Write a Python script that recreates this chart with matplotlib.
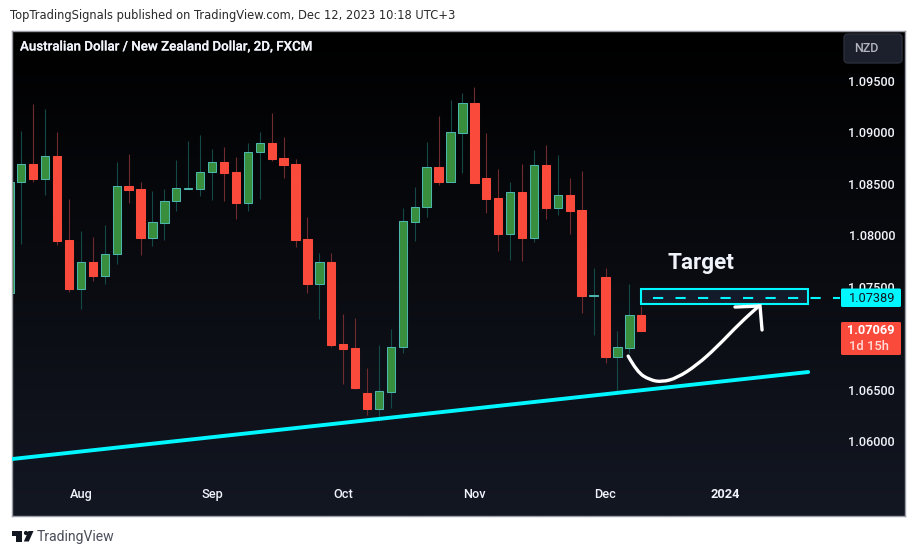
import numpy as np
import matplotlib
matplotlib.use("Agg")
import matplotlib.pyplot as plt
import matplotlib.patheffects as pe
from matplotlib.colors import LinearSegmentedColormap
from matplotlib.patches import Rectangle, FancyBboxPatch, Polygon, Circle, PathPatch
from matplotlib.path import Path

# Candles (first one is clipped by the left edge of the chart)
opens = [1.07434, 1.08512, 1.08686, 1.08547, 1.08764, 1.07948, 1.07479, 1.07735, 1.07605, 1.07813,
         1.08473, 1.08444, 1.07974, 1.08119, 1.08327, 1.08450, 1.08450, 1.08609, 1.08706, 1.08609,
         1.08314, 1.08803, 1.08890, 1.08745, 1.08686, 1.07958, 1.07527, 1.07735, 1.06939, 1.06900,
         1.06463, 1.06314, 1.06479, 1.06910, 1.08129, 1.08269, 1.08657, 1.08517, 1.08993, 1.09279,
         1.08550, 1.08356, 1.08013, 1.08415, 1.07974, 1.08677, 1.08265, 1.08385, 1.08240, 1.07411,
         1.07589, 1.06818, 1.06906, 1.07220]
highs = [1.08515, 1.09010, 1.09272, 1.09223, 1.09000, 1.08347, 1.08036, 1.07978, 1.08097, 1.08706,
         1.08786, 1.08515, 1.08427, 1.08447, 1.08728, 1.08913, 1.08971, 1.08832, 1.08854, 1.08754,
         1.08890, 1.09000, 1.09184, 1.08951, 1.08738, 1.08175, 1.07825, 1.07825, 1.07233, 1.07194,
         1.06709, 1.06929, 1.07084, 1.08259, 1.08463, 1.08903, 1.09155, 1.09311, 1.09379, 1.09437,
         1.08990, 1.08641, 1.08515, 1.08689, 1.08825, 1.08874, 1.08777, 1.08553, 1.08621, 1.07680,
         1.07680, 1.07068, 1.07524, 1.07311]
lows = [1.07434, 1.07915, 1.08517, 1.08388, 1.07906, 1.07449, 1.07284, 1.07556, 1.07527, 1.07721,
        1.08311, 1.07809, 1.07896, 1.07954, 1.08236, 1.08450, 1.08382, 1.08340, 1.08333, 1.08158,
        1.08236, 1.08352, 1.08721, 1.08556, 1.07886, 1.07440, 1.07187, 1.06915, 1.06556, 1.06508,
        1.06255, 1.06191, 1.06323, 1.06857, 1.07945, 1.08178, 1.08488, 1.08517, 1.08605, 1.08508,
        1.08214, 1.07845, 1.07760, 1.07750, 1.07935, 1.08158, 1.08197, 1.08013, 1.07246, 1.07032,
        1.06760, 1.06488, 1.06857, 1.07069]
closes = [1.08515, 1.08686, 1.08547, 1.08764, 1.07945, 1.07479, 1.07735, 1.07605, 1.07813, 1.08473,
          1.08440, 1.07974, 1.08123, 1.08327, 1.08453, 1.08456, 1.08609, 1.08706, 1.08605, 1.08314,
          1.08803, 1.08890, 1.08741, 1.08683, 1.07954, 1.07527, 1.07735, 1.06935, 1.06896, 1.06517,
          1.06314, 1.06482, 1.06910, 1.08133, 1.08269, 1.08657, 1.08517, 1.08997, 1.09279, 1.08508,
          1.08352, 1.08013, 1.08415, 1.07974, 1.08677, 1.08265, 1.08385, 1.08236, 1.07411, 1.07420,
          1.06818, 1.06910, 1.07220, 1.07069]
bar_index = list(range(-1, 53))

month_pos = [5, 16, 27, 38, 49, 59]
month_labels = ["Aug", "Sep", "Oct", "Nov", "Dec", "2024"]
price_ticks = [1.06, 1.065, 1.075, 1.08, 1.085, 1.09, 1.095]

# Drawings on the chart (bar index / price)
trend_x = [-0.78, 66.0]
trend_y = [1.05825, 1.0667]
target_x = [51.97, 66.0]
target_y = [1.0733, 1.07476]
target_price = 1.07389
last_price = 1.07069
dash_x = [52.98, 68.66]
curve_x = [50.9, 51.64, 52.73, 53.74, 55.0, 56.67, 58.35, 60.28, 61.87]
curve_y = [1.06825, 1.0667, 1.06592, 1.06573, 1.06612, 1.06738, 1.06913, 1.07146, 1.07311]
head_x = [59.86, 61.96, 62.13]
head_y = [1.07301, 1.07311, 1.07078]

GREEN, GREEN_EDGE, GREEN_WICK = "#388e3c", "#4db6ac", "#134a47"
RED, RED_WICK = "#f94a3c", "#6f2b2d"
CYAN = "#00f7ff"
FONT = "Roboto"
THICK = [pe.withStroke(linewidth=0.12, foreground="#f0f3fa")]

W, H = 917, 556
fig = plt.figure(figsize=(W / 100, H / 100), dpi=100, facecolor="white")
ax = fig.add_axes([12 / W, 1 - 516 / H, 893 / W, 485 / H])
xlim = (-0.78, 74.12)
ylim = (1.05272, 1.09981)

cmap = LinearSegmentedColormap.from_list("bg", ["#000000", "#131722"])
ax.imshow(np.linspace(0, 1, 256).reshape(-1, 1), cmap=cmap, aspect="auto",
          extent=(*xlim, *ylim), origin="upper", zorder=0)

for i, o, h, l, c in zip(bar_index, opens, highs, lows, closes):
    up = c >= o
    ax.vlines(i, l, h, color=GREEN_WICK if up else RED_WICK, lw=0.8, zorder=1)
    ax.add_patch(Rectangle((i - 0.35, min(o, c)), 0.7, abs(c - o),
                           facecolor=GREEN if up else RED,
                           edgecolor=GREEN_EDGE if up else RED, lw=0.75, zorder=2))

ax.add_patch(Rectangle((target_x[0], target_y[0]), target_x[1] - target_x[0], target_y[1] - target_y[0],
                       facecolor="#131b2b", edgecolor=CYAN, lw=1.5, zorder=3))
ax.plot(dash_x, [target_price] * 2, color=CYAN, lw=1.5, ls=(0, (4.9, 5.9)), zorder=4)
ax.plot(trend_x, trend_y, color=CYAN, lw=2.8, solid_capstyle="round", zorder=4)

verts = [(curve_x[0], curve_y[0])]
codes = [Path.MOVETO]
for k in range(1, len(curve_x) - 1):
    verts += [(curve_x[k], curve_y[k]),
              ((curve_x[k] + curve_x[k + 1]) / 2, (curve_y[k] + curve_y[k + 1]) / 2)]
    codes += [Path.CURVE3, Path.CURVE3]
verts.append((curve_x[-1], curve_y[-1]))
codes.append(Path.LINETO)
ax.add_patch(PathPatch(Path(verts, codes), facecolor="none", edgecolor="white", lw=2.4,
                       capstyle="round", joinstyle="round", zorder=5))
ax.plot(head_x, head_y, color="white", lw=2.4, solid_capstyle="round",
        solid_joinstyle="miter", zorder=5)

ax.set_xlim(*xlim)
ax.set_ylim(*ylim)
ax.yaxis.tick_right()
ax.set_yticks(price_ticks)
ax.set_yticklabels([f"{p:.5f}" for p in price_ticks], ha="right", fontfamily=FONT,
                   fontsize=9.2, color="#f0f3fa", fontweight="medium")
ax.tick_params(axis="y", length=0, pad=-7.2)
ax.set_xticks(month_pos)
ax.set_xticklabels(month_labels, fontfamily=FONT, fontsize=9.2, color="#f0f3fa", fontweight="medium")
ax.tick_params(axis="x", length=0, pad=-20)
ax.get_xticklabels()[-1].set_fontweight("bold")
for s in ax.spines.values():
    s.set_color("#9a9da5")
    s.set_linewidth(1.0)

# Overlay in figure pixels for chrome: header, footer, price tags
ov = fig.add_axes([0, 0, 1, 1], facecolor="none", zorder=10)
ov.set_xlim(0, W)
ov.set_ylim(H, 0)
ov.axis("off")

ov.text(10, 16, "TopTradingSignals published on TradingView.com, Dec 12, 2023 10:18 UTC+3",
        fontfamily="DejaVu Sans", fontsize=8.32, color="#2a2a2a", va="center", ha="left")
ov.text(20, 47, "Australian Dollar / New Zealand Dollar, 2D, FXCM", fontfamily=FONT,
        fontsize=9.6, color="#f0f3fa", va="center", ha="left", fontweight="medium",
        path_effects=THICK)
ov.add_patch(FancyBboxPatch((847, 37), 52, 23, boxstyle="round,pad=3,rounding_size=4",
                            facecolor="#1c202d", edgecolor="#2a2e39", lw=1))
ov.text(866, 48.5, "NZD", fontfamily=FONT, fontsize=9, color="#b2b5be", va="center", ha="center",
        fontweight="medium")

ov.text(701, 263, "Target", fontfamily=FONT, fontsize=16.2, fontweight="bold", color="#f0f3fa",
        va="center", ha="center")

ov.add_patch(FancyBboxPatch((841, 288.5), 60, 18.5, boxstyle="round,pad=0,rounding_size=1.5",
                            facecolor=CYAN, edgecolor="none"))
ov.text(895, 298, f"{target_price:.5f}", fontfamily=FONT, fontsize=9.2, color="#131722",
        va="center", ha="right")
ov.add_patch(FancyBboxPatch((841, 322), 60, 33, boxstyle="round,pad=0,rounding_size=1.5",
                            facecolor=RED, edgecolor="none"))
ov.text(895, 331, f"{last_price:.5f}", fontfamily=FONT, fontsize=9.2, color="white",
        fontweight="bold", va="center", ha="right")
ov.text(849, 346, "1d 15h", fontfamily=FONT, fontsize=9.4, color="#ffdcd8", va="center", ha="left",
        fontweight="medium")

# TradingView logo and wordmark
LOGO = "#131722"
ov.add_patch(Polygon([(11.5, 531), (22, 531), (22, 541.5), (16.3, 541.5), (16.3, 535.5), (11.5, 535.5)],
                     color=LOGO, lw=0))
ov.add_patch(Circle((26, 533), 2.1, color=LOGO, lw=0))
ov.add_patch(Polygon([(28.5, 531), (33.5, 531), (28.8, 541.5), (23.8, 541.5)], color=LOGO, lw=0))
ov.text(37, 537, "TradingView", fontfamily=FONT, fontsize=10.1, color="#4a4e59", va="center", ha="left")

fig.savefig("out.png", dpi=100, facecolor="white")
